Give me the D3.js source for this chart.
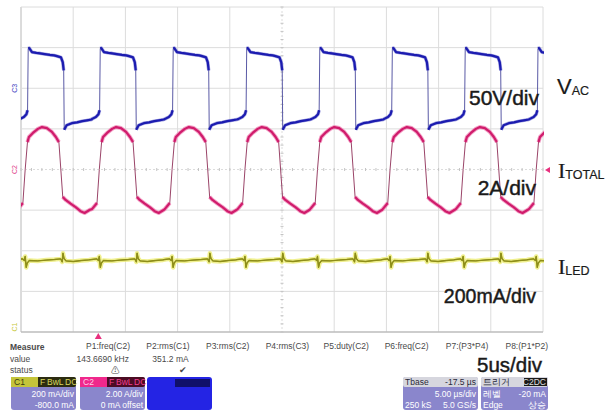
<!DOCTYPE html>
<html lang="ko">
<head>
<meta charset="UTF-8" />
<title>Scope capture</title>
<script src="https://d3js.org/d3.v7.min.js"></script>
<style>
  body{margin:0;background:#fff}
  svg{display:block}
  .lbl{font-family:"Liberation Sans",Arial,sans-serif;fill:#1a1a1a;stroke:#1a1a1a;stroke-width:.45px}
  .meas{font-family:"Liberation Sans",Arial,sans-serif;font-size:8.5px;fill:#4a4a4a}
  .box{font-family:"Liberation Sans",Arial,sans-serif;font-size:8.5px}
</style>
</head>
<body>
<div id="scope"></div>
<script>
// ---- data (time in µs, trigger at 0) ----
const timeDomain = [-7.5, 42.5];           // 10 div x 5 µs, Tbase -17.5 µs
// V_AC (C3): rising edge times, and one period shape [dt, V]
const vacRise = [-6.83, 0.07, 7.06, 14.1, 21.1, 28.05, 35.03, 42.0];
const vacShape = [
  [-0.8, -38], [-0.4, -35.5], [-0.15, -32], [-0.04, -27],
  [0.02, 49], [0.12, 49.5], [0.38, 44.5], [0.8, 43.5], [1.15, 43], [1.6, 42], [2.1, 41],
  [2.5, 40.5], [2.78, 39.5], [3.16, 38], [3.33, 32], [3.42, 22],
  [3.47, -51], [3.7, -45.5], [4.2, -43], [4.7, -42], [5.2, -40.5], [5.65, -39.5], [6.1, -38.5]
];
// I_TOTAL (C2): zero-crossing (rising) times, and shape [dt, A]
const itotRise = [-7.1, 0, 6.97, 13.95, 20.9, 27.85, 34.85, 41.85];
const itotShape = [
  [-0.7, -1.95], [-0.22, -1.65], [0, 0], [0.22, 1.35], [0.36, 1.6],
  [0.74, 1.8], [1.22, 2.0], [1.6, 2.09], [2.08, 2.04], [2.56, 1.85], [2.94, 1.6], [3.23, 1.35],
  [3.6, -1.35], [3.87, -1.5], [4.35, -1.68], [4.83, -1.85], [5.3, -2.05], [5.69, -2.14], [6.2, -1.98]
];
// I_LED (C1): shape [dt, mA] following the I_TOTAL edges
const iledShape = [
  [-0.7, 357], [-0.25, 360], [-0.08, 352], [0.0, 372], [0.1, 318], [0.2, 340], [0.4, 352],
  [1.2, 350], [2.0, 354], [2.8, 357], [3.4, 360], [3.55, 345], [3.62, 388], [3.72, 362],
  [3.9, 350], [4.6, 347], [5.4, 352], [6.1, 355]
];
// channel settings: volts(amps)/div and offset in the same unit
const vacScale = {perDiv: 50, offset: 100};      // zero 2 div above centre
const itotScale = {perDiv: 2, offset: 0};
const iledScale = {perDiv: 200, offset: -800};

const scaleTexts = ["50V/div", "2A/div", "200mA/div", "5us/div"];
const measNames = ["P1:freq(C2)", "P2:rms(C1)", "P3:rms(C2)", "P4:rms(C3)", "P5:duty(C2)", "P6:freq(C2)", "P7:(P3*P4)", "P8:(P1*P2)"];
const measValues = ["143.6690 kHz", "351.2 mA", "", "", "", "", "", ""];
const measStatus = ["\u26A0", "\u2714", "", "", "", "", "", ""];
const chanBoxes = [
  {name: "C1", tags: ["F", "BwL", "DC"], lines: ["200 mA/div", "-800.0 mA"]},
  {name: "C2", tags: ["F", "BwL", "DC"], lines: ["2.00 A/div", "0 mA offset"]},
  {name: "", tags: [], lines: []}
];
const tbaseBox = {head: ["Tbase", "-17.5 µs"], rows: [["", "5.00 µs/div"], ["250 kS", "5.0 GS/s"]]};
const trigBox = {head: ["트리거", "C2DC"], rows: [["레벨", "-20 mA"], ["Edge", "상승"]]};

// ---- layout ----
const W = 613, H = 411;
const gx0 = 21, gx1 = 543, gy0 = 7, gy1 = 332;
const svg = d3.select("#scope").append("svg").attr("width", W).attr("height", H);

const x = d3.scaleLinear().domain(timeDomain).range([gx0, gx1]);
const xDiv = d3.scaleLinear().domain([0, 10]).range([gx0, gx1]);
const yDiv = d3.scaleLinear().domain([-4, 4]).range([gy1, gy0]);
const chanY = s => d3.scaleLinear().domain([-4 * s.perDiv - s.offset, 4 * s.perDiv - s.offset]).range([gy1, gy0]);
const yVac = chanY(vacScale), yItot = chanY(itotScale), yIled = chanY(iledScale);

// grid
const grid = svg.append("g");
grid.selectAll(".vl").data(d3.range(0, 11)).enter().append("line")
  .attr("x1", d => xDiv(d)).attr("x2", d => xDiv(d)).attr("y1", gy0).attr("y2", gy1)
  .attr("stroke", d => d === 0 ? "#b8b8b8" : "#dcdcdc").attr("stroke-width", 1)
  .attr("stroke-dasharray", d => d === 5 ? "2,2" : null);
grid.selectAll(".hl").data(d3.range(-4, 5)).enter().append("line")
  .attr("x1", gx0).attr("x2", gx1).attr("y1", d => yDiv(d)).attr("y2", d => yDiv(d))
  .attr("stroke", d => d === -4 ? "#bdbdbd" : "#dcdcdc").attr("stroke-width", d => d === -4 ? 1.5 : 1)
  .attr("stroke-dasharray", d => d === 0 ? "2,2" : null);
// minor ticks on centre lines
grid.selectAll(".mt").data(d3.range(0, 50.1, 1)).enter().append("line")
  .attr("x1", d => xDiv(d / 5)).attr("x2", d => xDiv(d / 5))
  .attr("y1", yDiv(0) - 1.5).attr("y2", yDiv(0) + 1.5).attr("stroke", "#c4c4c4");
grid.selectAll(".mt2").data(d3.range(0, 40.1, 1)).enter().append("line")
  .attr("y1", d => yDiv(d / 5 - 4)).attr("y2", d => yDiv(d / 5 - 4))
  .attr("x1", xDiv(5) - 1.5).attr("x2", xDiv(5) + 1.5).attr("stroke", "#c4c4c4");

svg.append("clipPath").attr("id", "plotclip").append("rect")
  .attr("x", gx0).attr("y", gy0).attr("width", gx1 - gx0 + 1).attr("height", gy1 - gy0);

function buildTrace(edges, shape) {
  const pts = [];
  edges.forEach(t0 => shape.forEach(([dt, v]) => pts.push([t0 + dt, v])));
  return pts;
}

function drawTrace(pts, yS, thin, core, glow, coreW, glowW) {
  const px = pts.map(([t, v]) => [x(t), yS(v)]);
  const g = svg.append("g").attr("clip-path", "url(#plotclip)");
  const line = d3.line();
  // slow runs get the heavy, intensified stroke
  const runs = [];
  let run = [px[0]];
  for (let i = 1; i < px.length; i++) {
    const dx = Math.abs(px[i][0] - px[i - 1][0]), dy = Math.abs(px[i][1] - px[i - 1][1]);
    if (dy > 3 * dx + 8) { if (run.length > 1) runs.push(run); run = [px[i]]; }
    else run.push(px[i]);
  }
  if (run.length > 1) runs.push(run);
  if (glow) g.selectAll(".glow").data(runs).enter().append("path").attr("d", line)
    .attr("fill", "none").attr("stroke", glow).attr("stroke-width", glowW).attr("stroke-linejoin", "round").attr("opacity", 0.8);
  g.append("path").attr("d", line(px)).attr("fill", "none").attr("stroke", thin).attr("stroke-width", 1);
  g.selectAll(".core").data(runs).enter().append("path").attr("d", line)
    .attr("fill", "none").attr("stroke", core).attr("stroke-width", coreW).attr("stroke-linejoin", "round");
}

drawTrace(buildTrace(itotRise, iledShape), yIled, "#8e8e18", "#8e8e18", "#ecec74", 1.4, 4.5);
drawTrace(buildTrace(vacRise, vacShape), yVac, "#5a5aa6", "#1c1cb0", "#8c8cd8", 2.2, 3.4);
drawTrace(buildTrace(itotRise, itotShape), yItot, "#9a4468", "#d01c6c", "#f08ab8", 2.2, 4);

// channel markers at left edge
const chanMarks = [["C3", yVac(0), "#3a3ac0"], ["C2", yItot(0), "#e0408a"], ["C1", yIled(0) - 5, "#c8c840"]];
svg.selectAll(".cm").data(chanMarks).enter().append("text")
  .attr("transform", d => `translate(17,${d[1]}) rotate(-90)`)
  .attr("text-anchor", "middle").attr("font-size", 7).attr("font-family", "Liberation Sans")
  .attr("fill", d => d[2]).text(d => d[0]);
// trigger level marker (right) and trigger time marker (bottom)
svg.append("path").attr("d", `M${gx1 + 2},${yItot(-0.02)} l5,-3 v6 z`).attr("fill", "#e8307e");
svg.append("path").attr("d", `M${x(0) - 1},${gy1 + 1} l-3.5,6 h7 z`).attr("fill", "#e8307e");

// right-hand labels
function subLabel(xp, yp, main, sub, serif) {
  const t = svg.append("text").attr("class", "lbl").attr("x", xp).attr("y", yp).style("stroke-width", "0.2px");
  t.append("tspan").attr("font-size", 22).attr("font-family", serif ? "Liberation Serif, serif" : null).text(main);
  t.append("tspan").attr("font-size", 12.5).attr("dy", 1).text(sub);
}
subLabel(557, 94, "V", "AC", false);
subLabel(558, 178, "I", "TOTAL", true);
subLabel(558, 274, "I", "LED", true);

const scalePos = [[539, 105, 21], [536, 195, 21], [536, 303, 19.5], [542, 372, 20.5]];
svg.selectAll(".sc").data(scaleTexts).enter().append("text").attr("class", "lbl")
  .attr("x", (d, i) => scalePos[i][0]).attr("y", (d, i) => scalePos[i][1])
  .attr("font-size", (d, i) => scalePos[i][2]).attr("text-anchor", "end").text(d => d);

// measurement table
const colX = d3.scaleLinear().domain([0, 7]).range([130, 548]);
svg.append("text").attr("class", "meas").attr("x", 10).attr("y", 350).attr("font-weight", "bold").attr("fill", "#333").text("Measure");
svg.append("text").attr("class", "meas").attr("x", 10).attr("y", 362).text("value");
svg.append("text").attr("class", "meas").attr("x", 10).attr("y", 373).text("status");
svg.selectAll(".mh").data(measNames).enter().append("text").attr("class", "meas")
  .attr("x", (d, i) => colX(i)).attr("y", 349).attr("text-anchor", "end").text(d => d);
svg.selectAll(".mv").data(measValues).enter().append("text").attr("class", "meas")
  .attr("x", (d, i) => colX(i) - 1).attr("y", 362).attr("text-anchor", "end").text(d => d);
svg.selectAll(".ms").data(measStatus).enter().append("text").attr("class", "meas")
  .attr("x", (d, i) => colX(i) - (i === 0 ? 15 : 7)).attr("y", 373).attr("text-anchor", "middle")
  .attr("font-family", "DejaVu Sans").attr("font-size", 8).attr("fill", "#444").text(d => d);

// channel boxes
const boxX = [11, 80, 147], boxW = 65, by = 377, bh = 33, hh = 10;
const headCol = ["#c4c43a", "#f0288c"], tagBg = ["#2c2c10", "#4c0c24"], tagFg = ["#d8d860", "#f04090"];
const tagX = [29, 36, 54];
chanBoxes.forEach((b, i) => {
  const g = svg.append("g").attr("transform", `translate(${boxX[i]},${by})`);
  if (i === 2) {
    g.append("rect").attr("width", boxW).attr("height", bh).attr("rx", 3).attr("fill", "#2424e4");
    g.append("rect").attr("x", 28).attr("y", 2).attr("width", 35).attr("height", 8).attr("fill", "#10106a");
    return;
  }
  g.append("rect").attr("width", boxW).attr("height", bh).attr("rx", 3).attr("fill", "#8a86cc");
  g.append("rect").attr("width", boxW).attr("height", hh).attr("rx", 2).attr("fill", tagBg[i]);
  g.append("rect").attr("width", 27).attr("height", hh).attr("fill", headCol[i]);
  g.append("text").attr("class", "box").attr("x", 3).attr("y", 8).attr("fill", i ? "#ffd0e8" : "#3a3a10").text(b.name);
  b.tags.forEach((t, k) => g.append("text").attr("class", "box").attr("x", tagX[k]).attr("y", 8)
    .attr("font-size", 7).attr("fill", tagFg[i]).text(t));
  b.lines.forEach((l, j) => g.append("text").attr("class", "box").attr("x", boxW - 2).attr("y", 20 + j * 10.5)
    .attr("text-anchor", "end").attr("fill", "#fff").text(l));
});

// timebase / trigger boxes
[[403, 75, tbaseBox], [481, 67, trigBox]].forEach(([bx, bw, b], i) => {
  const g = svg.append("g").attr("transform", `translate(${bx},${by})`);
  g.append("rect").attr("width", bw).attr("height", bh).attr("rx", 3).attr("fill", "#8a86cc");
  g.append("rect").attr("width", bw).attr("height", hh).attr("rx", 2).attr("fill", "#d6d6de");
  g.append("text").attr("class", "box").attr("x", 2).attr("y", 8).attr("fill", "#2a2a3a").text(b.head[0]);
  if (i === 1) g.append("rect").attr("x", bw - 24).attr("y", 1).attr("width", 23).attr("height", 8).attr("fill", "#1a1a1a");
  g.append("text").attr("class", "box").attr("x", bw - 2).attr("y", 8).attr("text-anchor", "end")
    .attr("fill", i === 1 ? "#e0e0e0" : "#2a2a3a").text(b.head[1]);
  b.rows.forEach((r, j) => {
    g.append("text").attr("class", "box").attr("x", 2).attr("y", 20 + j * 10.5).attr("fill", "#fff").text(r[0]);
    g.append("text").attr("class", "box").attr("x", bw - 2).attr("y", 20 + j * 10.5).attr("text-anchor", "end").attr("fill", "#fff").text(r[1]);
  });
});
</script>
</body>
</html>
